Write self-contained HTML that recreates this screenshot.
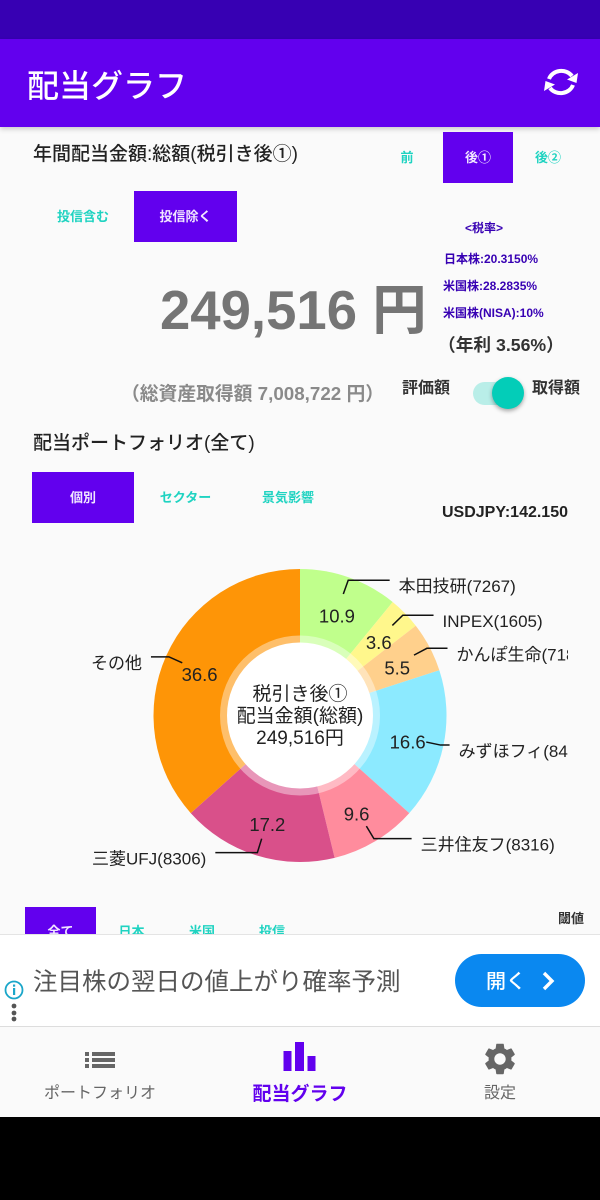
<!DOCTYPE html>
<html lang="ja">
<head>
<meta charset="utf-8">
<title>配当グラフ</title>
<style>
html,body{margin:0;padding:0;background:#000;}
#screen{position:relative;width:600px;height:1200px;overflow:hidden;background:#000;font-family:"Liberation Sans","Noto Sans CJK JP",sans-serif;}
.b{position:absolute;}
.t{position:absolute;white-space:nowrap;line-height:1;}
.c{text-align:center;}
.teal{color:#1fd3c1;font-size:13px;font-weight:bold;}
.act{color:#f1e6ff;font-size:13px;font-weight:bold;}
.tax{color:#3700b3;font-size:12px;font-weight:bold;}
.box{position:absolute;background:#6200ee;}
</style>
</head>
<body>
<div id="screen">
  <div class="b" style="left:0;top:0;width:600px;height:1117px;background:#fafafa;"></div>
  <div class="b" style="left:0;top:0;width:600px;height:39px;background:#3700b3;"></div>
  <div class="b" style="left:0;top:39px;width:600px;height:88px;background:#6200ee;box-shadow:0 2px 5px rgba(0,0,0,.2);"></div>
  <div class="t" style="left:27px;top:70px;font-size:32px;font-weight:500;color:#fff;">配当グラフ</div>
  <svg class="b" style="left:543px;top:65px;" width="36" height="34" viewBox="0 0 36 34">
    <path d="M6 14 A13 12 0 0 1 29 11" fill="none" stroke="#fff" stroke-width="4"/>
    <path d="M30 20 A13 12 0 0 1 7 23" fill="none" stroke="#fff" stroke-width="4"/>
    <path d="M35 8 L33.5 18 L24 14.5 Z" fill="#fff"/>
    <path d="M1 26 L2.5 16 L12 19.5 Z" fill="#fff"/>
  </svg>

  <div class="t" style="left:33px;top:145px;font-size:19px;font-weight:500;color:#222;">年間配当金額:総額(税引き後①)</div>
  <div class="t c teal" style="left:372px;top:151px;width:70px;">前</div>
  <div class="box" style="left:443px;top:132px;width:70px;height:51px;"></div>
  <div class="t c act" style="left:443px;top:151px;width:70px;">後①</div>
  <div class="t c teal" style="left:513px;top:151px;width:70px;">後②</div>

  <div class="t c teal" style="left:32px;top:210px;width:102px;">投信含む</div>
  <div class="box" style="left:134px;top:191px;width:103px;height:51px;"></div>
  <div class="t c act" style="left:134px;top:210px;width:103px;">投信除く</div>

  <div class="t c tax" style="left:444px;top:222px;width:80px;">&lt;税率&gt;</div>
  <div class="t tax" style="left:444px;top:253px;">日本株:20.3150%</div>
  <div class="t tax" style="left:443px;top:280px;">米国株:28.2835%</div>
  <div class="t tax" style="left:443px;top:307px;">米国株(NISA):10%</div>

  <div class="t" style="left:160px;top:284px;font-size:54.5px;font-weight:bold;color:#757575;">249,516 円</div>
  <div class="t" style="left:438px;top:337px;font-size:17.7px;font-weight:bold;color:#333;">（年利 3.56%）</div>
  <div class="t" style="left:121px;top:385px;font-size:18.8px;font-weight:bold;color:#8a8a8a;">（総資産取得額 7,008,722 円）</div>

  <div class="t" style="left:402px;top:381px;font-size:16px;font-weight:bold;color:#333;">評価額</div>
  <div class="b" style="left:473px;top:382px;width:48px;height:23px;border-radius:12px;background:#b9eee8;"></div>
  <div class="b" style="left:492px;top:377px;width:32px;height:32px;border-radius:50%;background:#03cdb8;box-shadow:0 2px 4px rgba(0,0,0,.35);"></div>
  <div class="t" style="left:532px;top:381px;font-size:16px;font-weight:bold;color:#333;">取得額</div>

  <div class="t" style="left:33px;top:434px;font-size:19px;font-weight:500;color:#222;">配当ポートフォリオ(全て)</div>
  <div class="box" style="left:32px;top:472px;width:102px;height:51px;"></div>
  <div class="t c act" style="left:32px;top:491px;width:102px;">個別</div>
  <div class="t c teal" style="left:134px;top:491px;width:103px;">セクター</div>
  <div class="t c teal" style="left:237px;top:491px;width:102px;">景気影響</div>
  <div class="t" style="left:442px;top:505px;font-size:16px;font-weight:bold;color:#222;">USDJPY:142.150</div>

  <svg id="chart" class="b" style="left:0;top:540px;" width="568" height="350" viewBox="0 540 568 350"></svg>

  <div class="box" style="left:25px;top:907px;width:71px;height:40px;"></div>
  <div class="t c act" style="left:25px;top:925px;width:71px;">全て</div>
  <div class="t c teal" style="left:96px;top:925px;width:71px;">日本</div>
  <div class="t c teal" style="left:167px;top:925px;width:70px;">米国</div>
  <div class="t c teal" style="left:237px;top:925px;width:70px;">投信</div>
  <div class="t" style="left:558px;top:912px;font-size:13px;font-weight:bold;color:#333;">閾値</div>

  <div class="b" style="left:0;top:934px;width:600px;height:93px;background:#fff;border-top:1px solid #e4e4e4;border-bottom:1px solid #ddd;box-sizing:border-box;"></div>
  <div class="t" style="left:33px;top:971px;font-size:24.5px;color:#555;">注目株の翌日の値上がり確率予測</div>
  <div class="b" style="left:455px;top:954px;width:130px;height:53px;border-radius:27px;background:#0a88f0;"></div>
  <div class="t" style="left:486px;top:972px;font-size:20px;font-weight:500;color:#fff;">開く</div>
  <svg class="b" style="left:540px;top:970px;" width="16" height="22" viewBox="0 0 16 22"><path d="M4 3 L12 11 L4 19" fill="none" stroke="#fff" stroke-width="3.4"/></svg>
  <svg class="b" style="left:3px;top:978px;" width="22" height="46" viewBox="0 0 22 46">
    <circle cx="11" cy="12" r="8.5" fill="#fff" stroke="#1aa6c9" stroke-width="1.8"/>
    <rect x="10" y="10" width="2.2" height="7" fill="#1aa6c9"/><rect x="10" y="6.5" width="2.2" height="2.2" fill="#1aa6c9"/>
    <circle cx="11" cy="28" r="2.4" fill="#555"/><circle cx="11" cy="35" r="2.4" fill="#555"/><circle cx="11" cy="41" r="2.4" fill="#555"/>
  </svg>

  <div class="b" style="left:0;top:1027px;width:600px;height:90px;background:#fafafa;"></div>
  <svg class="b" style="left:84px;top:1050px;" width="32" height="20" viewBox="0 0 32 20">
    <rect x="1" y="2" width="4" height="4" fill="#666"/><rect x="8" y="2" width="23" height="4" fill="#666"/>
    <rect x="1" y="8" width="4" height="4" fill="#666"/><rect x="8" y="8" width="23" height="4" fill="#666"/>
    <rect x="1" y="14" width="4" height="4" fill="#666"/><rect x="8" y="14" width="23" height="4" fill="#666"/>
  </svg>
  <div class="t c" style="left:0;top:1086px;width:200px;font-size:16px;color:#666;">ポートフォリオ</div>
  <svg class="b" style="left:283px;top:1042px;" width="33" height="30" viewBox="0 0 33 30">
    <rect x="0.5" y="9" width="8" height="20" fill="#6200ee"/><rect x="12" y="0" width="9" height="29" fill="#6200ee"/><rect x="24.5" y="14" width="8" height="15" fill="#6200ee"/>
  </svg>
  <div class="t c" style="left:200px;top:1085px;width:200px;font-size:19px;font-weight:bold;color:#6200ee;">配当グラフ</div>
  <svg class="b" style="left:481px;top:1040px;" width="38" height="38" viewBox="0 0 24 24"><path fill="#666" d="M19.14 12.94c.04-.3.06-.61.06-.94 0-.32-.02-.64-.07-.94l2.03-1.58c.18-.14.23-.41.12-.61l-1.92-3.32c-.12-.22-.37-.29-.59-.22l-2.39.96c-.5-.38-1.03-.7-1.62-.94l-.36-2.54c-.04-.24-.24-.41-.48-.41h-3.84c-.24 0-.43.17-.47.41l-.36 2.54c-.59.24-1.13.57-1.62.94l-2.39-.96c-.22-.08-.47 0-.59.22L2.74 8.87c-.12.21-.08.47.12.61l2.03 1.58c-.05.3-.09.63-.09.94s.02.64.07.94l-2.03 1.58c-.18.14-.23.41-.12.61l1.92 3.32c.12.22.37.29.59.22l2.39-.96c.5.38 1.03.7 1.62.94l.36 2.54c.05.24.24.41.48.41h3.84c.24 0 .44-.17.47-.41l.36-2.54c.59-.24 1.13-.56 1.62-.94l2.39.96c.22.08.47 0 .59-.22l1.92-3.32c.12-.22.07-.47-.12-.61l-2.01-1.58zM12 15.6c-1.98 0-3.6-1.62-3.6-3.6s1.62-3.6 3.6-3.6 3.6 1.62 3.6 3.6-1.62 3.6-3.6 3.6z"/></svg>
  <div class="t c" style="left:400px;top:1086px;width:200px;font-size:16px;color:#666;">設定</div>
</div>

<script>
const categories = ["本田技研(7267)", "INPEX(1605)", "かんぽ生命(7181)", "みずほフィ(8411)", "三井住友フ(8316)", "三菱UFJ(8306)", "その他"];
const shareValues = [10.9, 3.6, 5.5, 16.6, 9.6, 17.2, 36.6];
const sliceColors = ["#C0FF8C", "#FFF78C", "#FFD08C", "#8CEAFF", "#FF8C9D", "#D9508A", "#FE9507"];
const centerLines = ["税引き後①", "配当金額(総額)", "249,516円"];

const NS = "http://www.w3.org/2000/svg";
const svg = document.getElementById("chart");
const CX = 300, CY = 715.5, R = 146.5, RING = 80, HOLE = 73;
const RVAL = 110, RL1 = 129, RL2 = 143.6, SEG = 44;
const FONT = '"Liberation Sans","Noto Sans CJK JP",sans-serif';
const total = shareValues.reduce(function (a, b) { return a + b; }, 0);

function angleOf(v) { return v / total * 2 * Math.PI; }
function px(r, a) { return CX + r * Math.sin(a); }
function py(r, a) { return CY - r * Math.cos(a); }
function make(tag, attrs) {
  const el = document.createElementNS(NS, tag);
  Object.keys(attrs).forEach(function (k) { el.setAttribute(k, attrs[k]); });
  svg.appendChild(el);
  return el;
}

let cum = 0;
shareValues.forEach(function (v, i) {
  const a0 = angleOf(cum), a1 = angleOf(cum + v);
  const large = a1 - a0 > Math.PI ? 1 : 0;
  const slice = make("path", {
    d: "M" + CX + " " + CY + " L" + px(R, a0) + " " + py(R, a0) + " A" + R + " " + R + " 0 " + large + " 1 " + px(R, a1) + " " + py(R, a1) + " Z",
    fill: sliceColors[i]
  });
  
  
  cum += v;
});

const ring = make("circle", { cx: CX, cy: CY, r: RING, fill: "#fff", "fill-opacity": 0.4 });


const hole = make("circle", { cx: CX, cy: CY, r: HOLE, fill: "#fff" });



cum = 0;
shareValues.forEach(function (v, i) {
  const mid = angleOf(cum + v / 2);
  cum += v;
  const x1 = px(RL1, mid), y1 = py(RL1, mid), x2 = px(RL2, mid), y2 = py(RL2, mid);
  const right = Math.sin(mid) >= 0;
  const x3 = x2 + (right ? 1 : -1) * SEG * Math.abs(Math.cos(mid));
  const leader = make("polyline", {
    points: x1 + "," + y1 + " " + x2 + "," + y2 + " " + x3 + "," + y2,
    fill: "none", stroke: "#111", "stroke-width": 1.5
  });
  
  

  const valueText = make("text", {
    x: px(RVAL, mid), y: py(RVAL, mid) + 10.5, "text-anchor": "middle",
    "font-size": 18.5, "font-family": FONT, fill: "#222"
  });
  valueText.textContent = v.toFixed(1);
  
  

  const nameText = make("text", {
    x: x3 + (right ? 9 : -9), y: y2 + 12, "text-anchor": right ? "start" : "end",
    "font-size": 17, "font-family": FONT, fill: "#222"
  });
  nameText.textContent = categories[i];
  
  
});

centerLines.forEach(function (line, i) {
  const centerText = make("text", {
    x: CX, y: CY - 22 + i * 22 + 6.5, "text-anchor": "middle",
    "font-size": 19, "font-family": FONT, fill: "#222"
  });
  centerText.textContent = line;
  
  
});
</script>
</body>
</html>
